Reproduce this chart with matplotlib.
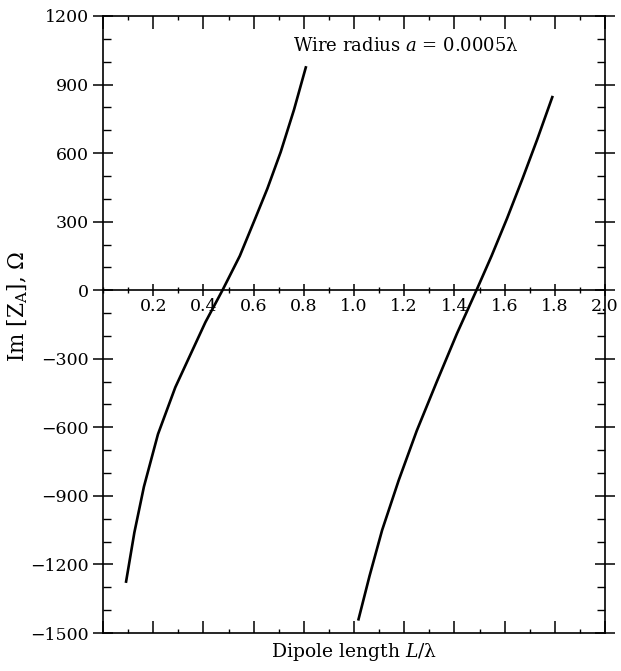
import numpy as np
import matplotlib.pyplot as plt
from matplotlib.ticker import MultipleLocator, FixedLocator

plt.rcParams['font.family'] = 'DejaVu Serif'
plt.rcParams['mathtext.fontset'] = 'dejavuserif'

# curve: dipole length L/lambda vs Im[Z_A] (ohm)
left_L = [0.092, 0.125, 0.163, 0.219, 0.288, 0.349, 0.408, 0.476, 0.545, 0.605, 0.655, 0.708, 0.761, 0.808]
left_X = [-1275, -1060, -860, -630, -425, -280, -140, 0, 150, 310, 445, 605, 790, 975]

right_L = [1.018, 1.062, 1.112, 1.178, 1.250, 1.330, 1.410, 1.488, 1.548, 1.610, 1.672, 1.730, 1.790]
right_X = [-1440, -1250, -1050, -832, -615, -400, -190, 0, 150, 315, 490, 660, 845]

xticks = [0.2, 0.4, 0.6, 0.8, 1.0, 1.2, 1.4, 1.6, 1.8, 2.0]
yticks = [-1500, -1200, -900, -600, -300, 0, 300, 600, 900, 1200]

fig = plt.figure(figsize=(6.21, 6.71), dpi=100)
ax = fig.add_axes([103/621, 1 - 633/671, 502/621, 617/671])

ax.plot(left_L, left_X, color='black', lw=1.9, solid_joinstyle='round')
ax.plot(right_L, right_X, color='black', lw=1.9, solid_joinstyle='round')

ax.set_xlim(0, 2.0)
ax.set_ylim(-1500, 1200)

for s in ax.spines.values():
    s.set_linewidth(1.2)

ax.xaxis.set_major_locator(MultipleLocator(0.2))
ax.xaxis.set_minor_locator(MultipleLocator(0.1))
ax.set_yticks(yticks)
ax.set_yticklabels([str(v).replace('-', '\u2212') for v in yticks])
ax.yaxis.set_minor_locator(MultipleLocator(100))

ax.tick_params(axis='x', which='both', direction='in', top=True, labelbottom=False)
ax.tick_params(axis='x', which='major', length=9, width=1.1)
ax.tick_params(axis='x', which='minor', length=3, width=1.0)
ax.tick_params(axis='y', which='minor', direction='in', right=True, length=6, width=1.0)
ax.tick_params(axis='y', which='major', direction='inout', length=14, width=1.1,
               labelsize=12.5, pad=3, right=True)

# axis line through zero carrying the x tick labels
ymin, ymax = ax.get_ylim()
zx = ax.secondary_xaxis((0 - ymin) / (ymax - ymin))
zx.spines['bottom'].set_linewidth(1.2)
zx.spines['top'].set_linewidth(1.2)
zx.xaxis.set_major_locator(FixedLocator(xticks))
zx.xaxis.set_minor_locator(MultipleLocator(0.1))
zx.tick_params(which='both', bottom=True, top=False, labelbottom=True, labeltop=False)
zx.tick_params(which='major', direction='inout', length=9, width=1.1, labelsize=12.5, pad=1)
zx.tick_params(which='minor', direction='inout', length=5, width=1.0)

ax.text(0.755, 1048, 'Wire radius $a$ = 0.0005\u03bb', fontsize=13)

ax.set_xlabel('Dipole length $L$/\u03bb', fontsize=13.5, labelpad=6)
ax.set_ylabel('Im [Z$_\\mathrm{A}$], \u03a9', fontsize=15.5)
ax.yaxis.set_label_coords(-0.145, 0.53)

fig.savefig('out.png', dpi=100)
